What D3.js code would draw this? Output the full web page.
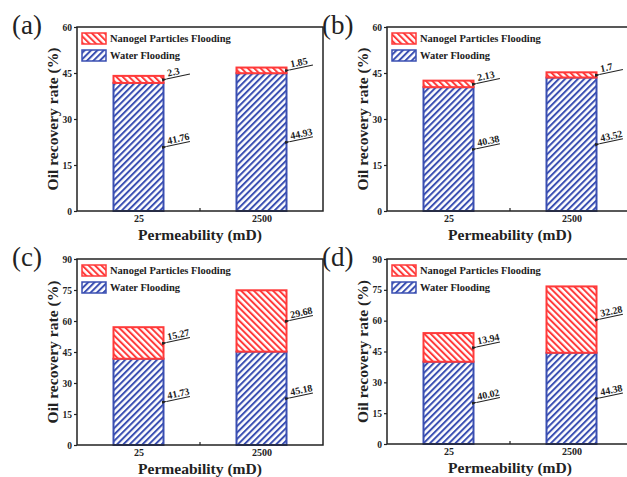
<!DOCTYPE html>
<html><head><meta charset="utf-8">
<script src="https://cdn.jsdelivr.net/npm/d3@7"></script>
<style>body{margin:0;background:#fff;} svg{display:block;}</style>
</head><body>
<svg id="c" width="627" height="477"></svg>
<script>
const categories = ["25", "2500"];
const panelNames = ["(a)", "(b)", "(c)", "(d)"];
const waterA = [41.76, 44.93], nanoA = [2.3, 1.85];
const waterB = [40.38, 43.52], nanoB = [2.13, 1.7];
const waterC = [41.73, 45.18], nanoC = [15.27, 29.68];
const waterD = [40.02, 44.38], nanoD = [13.94, 32.28];
const yMaxes = [60, 60, 90, 90];
const yTicksAB = [0, 15, 30, 45, 60];
const yTicksCD = [0, 15, 30, 45, 60, 75, 90];
const legendLabels = ["Nanogel Particles Flooding", "Water Flooding"];
const xTitle = "Permeability (mD)";
const yTitle = "Oil recovery rate (%)";

const BLUE = "#3a4fb2", RED = "#ff3a3a";
const FONT = "\"Liberation Serif\", \"Times New Roman\", serif";
const svg = d3.select("#c");
const defs = svg.append("defs");

function hatch(id, color, dir) {
  const p = defs.append("pattern").attr("id", id).attr("patternUnits", "userSpaceOnUse")
    .attr("width", 4.5).attr("height", 4.5)
    .attr("patternTransform", `rotate(${dir})`);
  p.append("rect").attr("width", 4.5).attr("height", 4.5).attr("fill", "#fff");
  p.append("rect").attr("x", 0).attr("y", 0).attr("width", 2).attr("height", 4.5).attr("fill", color);
}
hatch("hb", BLUE, 45);
hatch("hr", RED, -45);
defs.append("marker").attr("id", "arr").attr("viewBox", "0 0 10 10").attr("refX", 1).attr("refY", 5)
  .attr("markerWidth", 5).attr("markerHeight", 5).attr("orient", "auto-start-reverse")
  .append("path").attr("d", "M0,5 L10,1.5 L10,8.5 Z").attr("fill", "#222");

const panels = [
  {water: waterA, nano: nanoA, ticks: yTicksAB, x0: 77, y0: 27, y1: 211, lx: 12, ly: 34},
  {water: waterB, nano: nanoB, ticks: yTicksAB, x0: 387, y0: 27, y1: 211, lx: 322, ly: 34},
  {water: waterC, nano: nanoC, ticks: yTicksCD, x0: 77, y0: 259, y1: 445, lx: 12, ly: 266},
  {water: waterD, nano: nanoD, ticks: yTicksCD, x0: 387, y0: 259, y1: 444, lx: 322, ly: 266}
];

function serif(sel, size, bold) {
  sel.style("font-family", FONT).style("font-size", size + "px").style("font-weight", bold ? "bold" : "normal").attr("fill", "#222");
  return sel;
}

panels.forEach((p, i) => {
  const W = 246;
  const x = d3.scalePoint().domain(categories).range([p.x0, p.x0 + W]).padding(0.5);
  const y = d3.scaleLinear().domain([0, yMaxes[i]]).range([p.y1, p.y0]);
  const g = svg.append("g");
  const bw = 50;

  categories.forEach((c, j) => {
    const cx = x(c);
    const w = p.water[j], n = p.nano[j];
    g.append("rect").attr("x", cx - bw / 2).attr("y", y(w)).attr("width", bw).attr("height", y(0) - y(w))
      .attr("fill", "url(#hb)").attr("stroke", BLUE).attr("stroke-width", 2);
    g.append("rect").attr("x", cx - bw / 2).attr("y", y(w + n)).attr("width", bw).attr("height", y(w) - y(w + n))
      .attr("fill", "url(#hr)").attr("stroke", RED).attr("stroke-width", 2);
    [[w, w / 2], [n, w + n / 2]].forEach(([val, mid]) => {
      const a = g.append("g").attr("transform", `translate(${cx + bw / 2 + 1},${y(mid)}) rotate(-12)`);
      a.append("line").attr("x1", 2).attr("y1", 0).attr("x2", 26).attr("y2", 0)
        .attr("stroke", "#222").attr("stroke-width", 1).attr("marker-start", "url(#arr)");
      serif(a.append("text").attr("x", 4).attr("y", -2).text(String(val)), 10, true);
    });
  });

  g.append("rect").attr("x", p.x0).attr("y", p.y0).attr("width", W).attr("height", p.y1 - p.y0)
    .attr("fill", "none").attr("stroke", "#222").attr("stroke-width", 1.5);

  const ya = g.append("g").attr("transform", `translate(${p.x0},0)`)
    .call(d3.axisLeft(y).tickValues(p.ticks).tickSize(3).tickPadding(2));
  ya.attr("font-family", null);
  ya.select(".domain").remove();
  ya.selectAll("line").attr("stroke", "#222").attr("stroke-width", 1.2);
  serif(ya.selectAll("text"), 9.5, true);

  const xa = g.append("g").attr("transform", `translate(0,${p.y1})`)
    .call(d3.axisBottom(x).tickSize(0).tickPadding(4));
  xa.attr("font-family", null);
  xa.select(".domain").remove();
  serif(xa.selectAll("text"), 10, true);
  g.append("line").attr("x1", p.x0 + W / 2).attr("x2", p.x0 + W / 2).attr("y1", p.y1).attr("y2", p.y1 - 3)
    .attr("stroke", "#222").attr("stroke-width", 1.2);

  serif(g.append("text").attr("x", p.x0 + W / 2).attr("y", p.y1 + 28.5).attr("text-anchor", "middle")
    .attr("textLength", 124).attr("lengthAdjust", "spacingAndGlyphs").text(xTitle), 15.5, true);
  serif(g.append("text").attr("transform", `translate(${p.x0 - 19},${(p.y0 + p.y1) / 2}) rotate(-90)`)
    .attr("text-anchor", "middle").attr("textLength", 143).attr("lengthAdjust", "spacingAndGlyphs").text(yTitle), 15.5, true);
  serif(g.append("text").attr("x", p.lx).attr("y", p.ly).text(panelNames[i]), 27, false);

  const fills = ["url(#hr)", "url(#hb)"], strokes = [RED, BLUE];
  legendLabels.forEach((lab, k) => {
    const ly = p.y0 + 6 + k * 17;
    g.append("rect").attr("x", p.x0 + 5).attr("y", ly).attr("width", 24).attr("height", 11)
      .attr("fill", fills[k]).attr("stroke", strokes[k]).attr("stroke-width", 1.5);
    serif(g.append("text").attr("x", p.x0 + 33).attr("y", ly + 9).text(lab), 10.5, true);
  });
});
</script>
</body></html>
